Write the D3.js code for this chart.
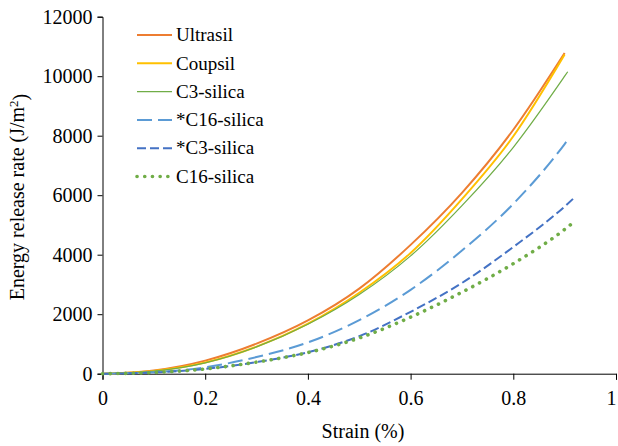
<!DOCTYPE html>
<html>
<head>
<meta charset="utf-8">
<script src="https://cdn.jsdelivr.net/npm/d3@7"></script>
<style>
  html, body { margin: 0; padding: 0; background: #fff; }
  svg { display: block; font-family: "Liberation Serif", "Times New Roman", serif; }
</style>
</head>
<body>
<svg id="chart" width="618" height="446"></svg>
<script>
// ---- data ----
const seriesNames = ["Ultrasil", "Coupsil", "C3-silica", "*C16-silica", "*C3-silica", "C16-silica"];
const strainUltrasil = [0, 0.1, 0.2, 0.3, 0.4, 0.5, 0.6, 0.7, 0.8, 0.9];
const energyUltrasil = [0, 110, 440, 1010, 1790, 2860, 4330, 6080, 8200, 10780];
const strainCoupsil = [0, 0.1, 0.2, 0.3, 0.4, 0.5, 0.6, 0.7, 0.8, 0.9];
const energyCoupsil = [0, 90, 375, 910, 1680, 2720, 4060, 5870, 7980, 10730];
const strainC3 = [0, 0.1, 0.2, 0.3, 0.4, 0.5, 0.6, 0.7, 0.8, 0.9, 0.906];
const energyC3 = [0, 85, 365, 900, 1660, 2660, 3960, 5650, 7610, 10000, 10150];
const strainStarC16 = [0, 0.1, 0.2, 0.3, 0.4, 0.5, 0.6, 0.7, 0.8, 0.9, 0.909];
const energyStarC16 = [0, 50, 215, 560, 1050, 1800, 2820, 4140, 5710, 7720, 7930];
const strainStarC3 = [0, 0.1, 0.2, 0.3, 0.4, 0.5, 0.6, 0.7, 0.8, 0.9, 0.919];
const energyStarC3 = [0, 40, 160, 390, 720, 1260, 2080, 3050, 4260, 5620, 5920];
const strainC16 = [0, 0.1, 0.2, 0.3, 0.4, 0.5, 0.6, 0.7, 0.8, 0.9, 0.916];
const energyC16 = [0, 40, 160, 390, 710, 1200, 1900, 2740, 3700, 4850, 5070];
const xTicks = [0, 0.2, 0.4, 0.6, 0.8, 1];
const yTicks = [0, 2000, 4000, 6000, 8000, 10000, 12000];
const xLabel = "Strain (%)";

const styles = [
  { color: "#ED7D31", width: 2, dash: null, cap: "butt" },
  { color: "#FFC000", width: 2, dash: null, cap: "butt" },
  { color: "#70AD47", width: 1.25, dash: null, cap: "butt" },
  { color: "#5B9BD5", width: 2, dash: "15,6", cap: "butt" },
  { color: "#4472C4", width: 2, dash: "9,4", cap: "butt" },
  { color: "#70AD47", width: 3.6, dash: "0.1,7.6", cap: "round" }
];

const seriesData = [
  [strainUltrasil, energyUltrasil],
  [strainCoupsil, energyCoupsil],
  [strainC3, energyC3],
  [strainStarC16, energyStarC16],
  [strainStarC3, energyStarC3],
  [strainC16, energyC16]
].map(([xs, ys]) => xs.map((x, i) => ({ x, y: ys[i] })));

// ---- layout ----
const svg = d3.select("#chart");
const x = d3.scaleLinear().domain([0, 1]).range([102.5, 616]);
const y = d3.scaleLinear().domain([0, 12000]).range([373.7, 16.7]);

// axes
const xAxis = svg.append("g").attr("transform", `translate(0,${y(0)})`)
  .call(d3.axisBottom(x).tickValues(xTicks).tickSize(6).tickPadding(6)
        .tickFormat(d => d === 0 ? "0" : d === 1 ? "1" : d3.format(".1f")(d)));
const yAxis = svg.append("g").attr("transform", `translate(${x(0)},0)`)
  .call(d3.axisLeft(y).tickValues(yTicks).tickSize(5).tickPadding(5).tickFormat(d3.format("d")));

[xAxis, yAxis].forEach(g => {
  g.select(".domain").attr("stroke", "#000").attr("stroke-width", 1);
  g.selectAll(".tick line").attr("stroke", "#000").attr("stroke-width", 1);
  g.selectAll(".tick text").attr("fill", "#000").style("font-size", "20px")
    .style("font-family", "'Liberation Serif', 'Times New Roman', serif");
});
xAxis.selectAll(".tick text").attr("dy", "0.95em");
// keep the last label "1" inside the picture
xAxis.selectAll(".tick text").filter(d => d === 1).attr("x", -5);

// lines
const line = d3.line().x(d => x(d.x)).y(d => y(d.y)).curve(d3.curveMonotoneX);
seriesData.forEach((data, i) => {
  const s = styles[i];
  svg.append("path")
    .datum(data)
    .attr("d", line)
    .attr("fill", "none")
    .attr("stroke", s.color)
    .attr("stroke-width", s.width)
    .attr("stroke-linecap", s.cap)
    .attr("stroke-dasharray", s.dash);
});

// legend
const legend = svg.append("g");
seriesNames.forEach((name, i) => {
  const s = styles[i];
  const yy = 35 + i * 28.3;
  legend.append("line")
    .attr("x1", 137).attr("x2", 172).attr("y1", yy).attr("y2", yy)
    .attr("stroke", s.color).attr("stroke-width", s.width)
    .attr("stroke-linecap", s.cap).attr("stroke-dasharray", s.dash);
  legend.append("text")
    .attr("x", 176).attr("y", yy).attr("dy", "0.33em")
    .style("font-size", "19px").attr("fill", "#000")
    .text(name);
});

// axis titles
svg.append("text")
  .attr("x", 363).attr("y", 438)
  .attr("text-anchor", "middle")
  .style("font-size", "20px").attr("fill", "#000")
  .text(xLabel);

const yt = svg.append("text")
  .attr("transform", "translate(24,197) rotate(-90)")
  .attr("text-anchor", "middle")
  .style("font-size", "20px").attr("fill", "#000");
yt.append("tspan").text("Energy release rate (J/m");
yt.append("tspan").attr("dy", "-0.45em").style("font-size", "13px").text("2");
yt.append("tspan").attr("dy", "0.45em").text(")");
</script>
</body>
</html>
